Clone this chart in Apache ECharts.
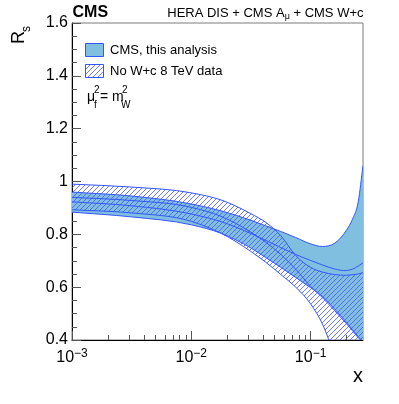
<!DOCTYPE html>
<html><head><meta charset="utf-8">
<script src="https://cdn.jsdelivr.net/npm/echarts@6/dist/echarts.min.js"></script>
<style>html,body{margin:0;padding:0;background:#fff}#c{width:399px;height:404px}</style>
</head><body><div id="c"></div>
<script>
// ---- data ----
const xValues   = [0.001, 0.003162, 0.01, 0.01778, 0.03162, 0.04217, 0.05623, 0.07499, 0.1, 0.1259, 0.1585, 0.1995, 0.2239, 0.2512, 0.275];
const cmsUpper   = [0.960, 0.945, 0.915, 0.889, 0.853, 0.832, 0.811, 0.788, 0.764, 0.754, 0.766, 0.815, 0.856, 0.925, 1.060];
const cmsCentral = [0.923, 0.908, 0.877, 0.848, 0.803, 0.777, 0.750, 0.724, 0.701, 0.684, 0.669, 0.663, 0.668, 0.680, 0.692];
const cmsLower   = [0.884, 0.866, 0.836, 0.804, 0.748, 0.712, 0.675, 0.637, 0.598, 0.565, 0.518, 0.467, 0.440, 0.412, 0.395];
const noWcUpper   = [0.990, 0.979, 0.957, 0.930, 0.878, 0.845, 0.795, 0.720, 0.675, 0.657, 0.648, 0.645, 0.647, 0.650, 0.655];
const noWcCentral = [0.940, 0.928, 0.902, 0.868, 0.808, 0.770, 0.724, 0.668, 0.603, 0.560, 0.512, 0.462, 0.436, 0.408, 0.392];
const noWcLower   = [0.893, 0.881, 0.849, 0.804, 0.735, 0.694, 0.648, 0.600, 0.537, 0.460, 0.345, 0.240, 0.200, 0.160, 0.130];
const xMajorTicks = [0.001, 0.01, 0.1];
const xMinorTicks = [0.002,0.003,0.004,0.005,0.006,0.007,0.008,0.009,0.02,0.03,0.04,0.05,0.06,0.07,0.08,0.09,0.2];
const xRange = [0.001, 0.275];
const yRange = [0.4, 1.6];
const yStep = 0.2;
const legendLabels = ['CMS, this analysis', 'No W+c 8 TeV data'];

// ---- styling ----
const FONT = '"Liberation Sans", Arial, Helvetica, sans-serif';
const LINE = '#3355ff';
const FILL = '#80bfdf';
const TICK = '#555555';

function makeHatch() {
  const s = 5;
  const c = document.createElement('canvas');
  c.width = s; c.height = s;
  const g = c.getContext('2d');
  g.strokeStyle = 'rgb(70,85,255)';
  g.lineWidth = 0.8;
  g.beginPath();
  g.moveTo(-1, s + 1); g.lineTo(s + 1, -1);
  g.moveTo(-1, 1); g.lineTo(1, -1);
  g.moveTo(s - 1, s + 1); g.lineTo(s + 1, s - 1);
  g.stroke();
  return c;
}
const hatch = makeHatch();

// x is plotted on a decade (log10) value axis
const lg = v => Math.log10(v);

// smooth cubic (Hermite -> Bezier) through pixel points
function slopes(P) {
  const n = P.length, m = [];
  for (let i = 0; i < n; i++) {
    if (i === 0) m.push((P[1][1] - P[0][1]) / (P[1][0] - P[0][0]));
    else if (i === n - 1) m.push((P[n - 1][1] - P[n - 2][1]) / (P[n - 1][0] - P[n - 2][0]));
    else {
      const h0 = P[i][0] - P[i - 1][0], h1 = P[i + 1][0] - P[i][0];
      const d0 = (P[i][1] - P[i - 1][1]) / h0, d1 = (P[i + 1][1] - P[i][1]) / h1;
      m.push((d0 * h1 + d1 * h0) / (h0 + h1));
    }
  }
  return m;
}
function fwd(P, start) {
  const m = slopes(P);
  let d = start + ' ' + P[0][0] + ' ' + P[0][1];
  for (let i = 0; i < P.length - 1; i++) {
    const h = P[i + 1][0] - P[i][0];
    d += ' C ' + (P[i][0] + h / 3) + ' ' + (P[i][1] + m[i] * h / 3) + ' ' +
         (P[i + 1][0] - h / 3) + ' ' + (P[i + 1][1] - m[i + 1] * h / 3) + ' ' + P[i + 1][0] + ' ' + P[i + 1][1];
  }
  return d;
}
function rev(P) {
  const m = slopes(P);
  const n = P.length;
  let d = ' L ' + P[n - 1][0] + ' ' + P[n - 1][1];
  for (let i = n - 2; i >= 0; i--) {
    const h = P[i + 1][0] - P[i][0];
    d += ' C ' + (P[i + 1][0] - h / 3) + ' ' + (P[i + 1][1] - m[i + 1] * h / 3) + ' ' +
         (P[i][0] + h / 3) + ' ' + (P[i][1] + m[i] * h / 3) + ' ' + P[i][0] + ' ' + P[i][1];
  }
  return d;
}

function bandSeries(name, lower, central, upper, fill) {
  return {
    type: 'custom', name, coordinateSystem: 'cartesian2d', xAxisIndex: 0, yAxisIndex: 0,
    clip: true, silent: true, animation: false,
    data: xValues.map((x, i) => [lg(x), lower[i], central[i], upper[i]]),
    encode: { x: 0, y: [1, 2, 3] },
    renderItem: (params, api) => {
      if (params.dataIndexInside !== 0) return null;
      const n = params.dataInsideLength;
      const lo = [], ce = [], up = [];
      for (let i = 0; i < n; i++) {
        const x = api.value(0, i);
        lo.push(api.coord([x, api.value(1, i)]));
        ce.push(api.coord([x, api.value(2, i)]));
        up.push(api.coord([x, api.value(3, i)]));
      }
      const edge = d => ({ type: 'path', shape: { pathData: d }, style: { fill: null, stroke: LINE, lineWidth: 1 } });
      return { type: 'group', children: [
        { type: 'path', shape: { pathData: fwd(up, 'M') + rev(lo) + ' Z' }, style: { fill: fill, stroke: null } },
        edge(fwd(up, 'M')), edge(fwd(lo, 'M')), edge(fwd(ce, 'M'))
      ] };
    }
  };
}

const chart = echarts.init(document.getElementById('c'), null, { renderer: 'canvas' });
chart.setOption({
  animation: false,
  backgroundColor: '#ffffff',
  grid: { left: 72, top: 23, width: 291, height: 317, show: true, borderColor: '#7a7a7a', borderWidth: 1, backgroundColor: 'transparent' },
  xAxis: [{
    type: 'value', min: lg(xRange[0]), max: lg(xRange[1]), interval: 1,
    axisLine: { show: true, onZero: false, lineStyle: { color: '#000', width: 1 } },
    axisTick: { show: true, inside: true, length: 9, customValues: xMajorTicks.map(lg), lineStyle: { color: TICK, width: 1 } },
    minorTick: { show: false }, splitLine: { show: false }, minorSplitLine: { show: false },
    axisLabel: {
      customValues: xMajorTicks.map(lg), margin: 8, color: '#000',
      formatter: v => '{b|10}{e|\u2212' + Math.abs(Math.round(v)) + '}',
      rich: {
        b: { fontFamily: FONT, fontSize: 16, color: '#000', lineHeight: 20 },
        e: { fontFamily: FONT, fontSize: 12, color: '#000', verticalAlign: 'top', lineHeight: 20 }
      }
    }
  }, {
    type: 'value', min: lg(xRange[0]), max: lg(xRange[1]), interval: 1, position: 'bottom',
    axisLine: { show: false },
    axisTick: { show: true, inside: true, length: 5, customValues: xMinorTicks.map(lg), lineStyle: { color: TICK, width: 1 } },
    axisLabel: { show: false }, splitLine: { show: false }, minorTick: { show: false }
  }],
  yAxis: {
    type: 'value', min: yRange[0], max: yRange[1], interval: yStep,
    axisLine: { show: true, onZero: false, lineStyle: { color: '#000', width: 1 } },
    axisTick: { show: true, inside: true, length: 9, lineStyle: { color: TICK, width: 1 } },
    minorTick: { show: true, splitNumber: 4, length: 5, lineStyle: { color: TICK, width: 1 } },
    splitLine: { show: false },
    axisLabel: { margin: 4, color: '#000', fontFamily: FONT, fontSize: 16,
      formatter: v => String(Math.round(v * 10) / 10) }
  },
  series: [
    bandSeries('CMS, this analysis', cmsLower, cmsCentral, cmsUpper, FILL),
    bandSeries('No W+c 8 TeV data', noWcLower, noWcCentral, noWcUpper, { image: hatch, repeat: 'repeat' })
  ],
  graphic: [
    { type: 'text', x: 72.5, y: 13, style: { text: 'CMS', font: 'bold 16px ' + FONT, fill: '#000', verticalAlign: 'middle', align: 'left' } },
    { type: 'text', x: 363.5, y: 13, style: {
        text: '{n|HERA DIS + CMS A}{s|\u03bc}{n| + CMS W+c}', align: 'right', verticalAlign: 'middle',
        rich: { n: { fontFamily: FONT, fontSize: 13, fill: '#000', lineHeight: 16 },
                s: { fontFamily: FONT, fontSize: 9, fill: '#000', verticalAlign: 'bottom', lineHeight: 16 } } } },
    // legend
    { type: 'rect', shape: { x: 85.5, y: 43.5, width: 18, height: 13 }, style: { fill: FILL, stroke: LINE, lineWidth: 1 } },
    { type: 'text', x: 110, y: 50, style: { text: legendLabels[0], font: '13px ' + FONT, fill: '#000', verticalAlign: 'middle' } },
    { type: 'rect', shape: { x: 85.5, y: 64.5, width: 18, height: 13 }, style: { fill: { image: hatch, repeat: 'repeat' }, stroke: LINE, lineWidth: 1 } },
    { type: 'text', x: 110, y: 71, style: { text: legendLabels[1], font: '13px ' + FONT, fill: '#000', verticalAlign: 'middle' } },
    // mu_f^2 = m_W^2
    { type: 'text', x: 87, y: 97, style: { text: '\u03bc', font: '14px ' + FONT, fill: '#000', verticalAlign: 'middle' } },
    { type: 'text', x: 94, y: 90, style: { text: '2', font: '10px ' + FONT, fill: '#000', verticalAlign: 'middle' } },
    { type: 'text', x: 94, y: 105, style: { text: 'f', font: '10px ' + FONT, fill: '#000', verticalAlign: 'middle' } },
    { type: 'text', x: 100, y: 97, style: { text: '= m', font: '14px ' + FONT, fill: '#000', verticalAlign: 'middle' } },
    { type: 'text', x: 122, y: 90, style: { text: '2', font: '10px ' + FONT, fill: '#000', verticalAlign: 'middle' } },
    { type: 'text', x: 121, y: 105, style: { text: 'W', font: '10px ' + FONT, fill: '#000', verticalAlign: 'middle' } },
    // axis titles
    { type: 'text', x: 19, y: 44, rotation: Math.PI / 2, style: { text: 'R', font: '18px ' + FONT, fill: '#000', verticalAlign: 'middle', align: 'left' } },
    { type: 'text', x: 27, y: 32, rotation: Math.PI / 2, style: { text: 's', font: '12px ' + FONT, fill: '#000', verticalAlign: 'middle', align: 'left' } },
    { type: 'text', x: 363, y: 376.5, style: { text: 'x', font: '20px ' + FONT, fill: '#000', verticalAlign: 'middle', align: 'right' } }
  ]
});
</script>
</body></html>
